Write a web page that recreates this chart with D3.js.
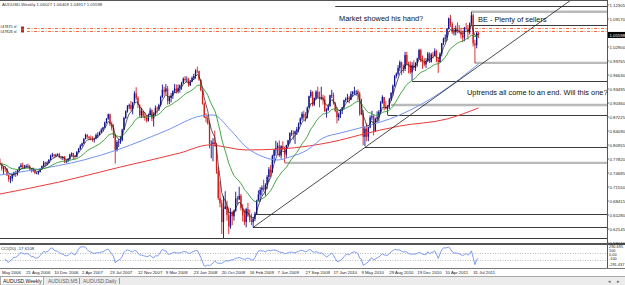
<!DOCTYPE html>
<html>
<head>
<meta charset="utf-8">
<script src="https://d3js.org/d3.v7.min.js"></script>
<style>
body { margin: 0; background: #fff; }
svg { display: block; font-family: "Liberation Sans", Arial, sans-serif; }
</style>
</head>
<body>
<div id="chart"></div>
<script>
// AUDUSD weekly bars, May 2006 - Aug 2011 (open = previous close)
var firstOpen = 0.7700;
var highs = [
 .7790,.7700,.7620,.7620,.7580,.7440,.7400,.7450,.7500,.7520,
 .7540,.7620,.7690,.7700,.7650,.7660,.7680,.7650,.7580,.7590,
 .7530,.7490,.7520,.7580,.7640,.7740,.7720,.7730,.7780,.7880,
 .7920,.7890,.7900,.7910,.7920,.7850,.7840,.7850,.7770,.7800,
 .7900,.7930,.7920,.7880,.7960,.8030,.8110,.8150,.8250,.8350,
 .8340,.8300,.8310,.8290,.8260,.8350,.8380,.8400,.8470,.8500,
 .8620,.8700,.8800,.8800,.8620,.8560,.8350,.8200,.8230,.8300,
 .8460,.8730,.8870,.8990,.9020,.9080,.9060,.9300,.9390,.9190,
 .9000,.8930,.8860,.8830,.8760,.8800,
 .8930,.8900,.8830,
 .8980,.8960,.9020,.9200,.9450,.9400,.9460,.9420,.9200,.9260,
 .9320,.9460,.9450,.9450,.9450,.9510,.9610,.9640,.9630,.9600,
 .9550,.9630,.9690,.9790,.9850,.9760,.9560,.9330,.9050,.8800,
 .8760,.8620,.8200,.8250,.8420,.8140,.7600,.7280,.6870,.6950,
 .7060,.6850,.6700,.6680,.6620,.6650,.7050,.6950,
 .7160,
 .7000,.6770,.6650,.6690,.6800,.6650,.6560,.6490,.6600,.6870,
 .7080,.7150,.7190,.7320,.7240,.7420,.7600,.7650,.7880,.8000,
 .8190,.8150,.8200,.8090,.8180,.8060,.8100,.8210,.8380,.8430,
 .8420,.8420,.8500,.8600,.8710,.8840,.8860,.8830,.8960,.9200,
 .9330,.9300,.9160,.9320,.9400,.9290,.9400,.9220,.9200,.8920,
 .9000,.9220,.9330,.9270,.9060,.8940,.8820,.8900,.8950,.9110,
 .9160,.9240,.9200,.9300,.9300,.9400,.9320,.9340,.9290,.9130,
 .8880,.8500,.8580,.8500,.8760,.8860,.8780,.8710,.8850,.8880,
 .9080,.9210,.9170,.9080,.8990,.9150,.9280,.9450,.9660,.9720,
 .9880,.9990,.9960,.9900,1.0180,1.0180,.9960,.9970,.9950,.9990,
 .9950,1.0050,1.0250,1.0250,1.0100,1.0040,1.0040,1.0180,1.0170,1.0160,
 1.0180,1.0260,1.0230,1.0070,1.0170,1.0380,1.0500,1.0570,1.0710,1.0950,
 1.1010,1.0850,1.0720,1.0770,1.0840,1.0780,1.0720,1.0660,1.0740,1.0830,
 1.0780,1.0840,1.1080,1.1040,1.0450,1.0630,1.06409
];
var lows = [
 .7640,.7520,.7450,.7500,.7400,.7270,.7240,.7280,.7390,.7380,
 .7410,.7500,.7590,.7570,.7560,.7580,.7580,.7530,.7480,.7490,
 .7450,.7440,.7430,.7480,.7550,.7600,.7620,.7640,.7680,.7750,
 .7820,.7800,.7830,.7850,.7800,.7770,.7760,.7690,.7690,.7710,
 .7760,.7840,.7770,.7780,.7820,.7930,.7990,.8060,.8120,.8220,
 .8240,.8200,.8200,.8170,.8150,.8220,.8250,.8310,.8360,.8400,
 .8470,.8580,.8660,.8520,.8420,.8250,.7680,.7950,.8050,.8120,
 .8180,.8430,.8680,.8820,.8900,.8860,.8780,.9030,.9100,.8920,
 .8720,.8700,.8700,.8640,.8600,.8620,
 .8760,.8630,.8510,
 .8740,.8800,.8860,.8960,.9150,.9200,.9240,.9000,.9010,.9050,
 .9130,.9260,.9250,.9250,.9270,.9330,.9470,.9510,.9500,.9400,
 .9420,.9500,.9550,.9580,.9700,.9530,.9300,.9000,.8700,.8600,
 .8550,.8020,.7800,.7730,.8060,.7450,.6860,.6700,.6100,.6010,
 .6660,.6400,.6100,.6220,.6300,.6400,.6600,.6770,
 .6860,
 .6630,.6380,.6300,.6250,.6480,.6370,.6300,.6250,.6390,.6540,
 .6830,.6820,.6960,.7050,.6960,.7110,.7270,.7380,.7470,.7700,
 .7860,.7900,.7830,.7790,.7990,.7700,.7810,.8050,.8130,.8300,
 .8210,.8120,.8320,.8380,.8550,.8640,.8650,.8620,.8690,.8930,
 .9150,.8960,.8970,.9110,.9140,.8940,.9100,.9000,.8840,.8710,
 .8860,.8950,.9150,.9000,.8830,.8580,.8640,.8700,.8790,.8890,
 .9050,.9060,.9030,.9100,.9180,.9220,.9200,.9090,.8750,.8770,
 .8090,.8070,.8180,.8180,.8470,.8650,.8310,.8400,.8600,.8620,
 .8800,.9020,.8870,.8890,.8770,.8900,.9080,.9200,.9400,.9590,
 .9650,.9750,.9660,.9710,.9750,.9880,.9700,.9690,.9540,.9770,
 .9750,.9850,1.0010,.9950,.9800,.9860,.9820,.9950,.9930,.9940,
 1.0030,1.0080,.9950,.9710,.9940,1.0080,1.0330,1.0400,1.0430,1.0680,
 1.0740,1.0580,1.0550,1.0550,1.0600,1.0590,1.0480,1.0400,1.0420,1.0680,
 1.0460,1.0570,1.0800,1.0300,.9930,1.0260,1.04917
];
var closes = [
 .7680,.7570,.7590,.7560,.7420,.7330,.7340,.7430,.7480,.7450,
 .7530,.7600,.7640,.7610,.7620,.7630,.7620,.7560,.7520,.7530,
 .7460,.7470,.7500,.7560,.7620,.7700,.7660,.7700,.7760,.7860,
 .7880,.7850,.7870,.7890,.7820,.7800,.7830,.7720,.7740,.7780,
 .7880,.7910,.7850,.7830,.7940,.8010,.8080,.8130,.8230,.8320,
 .8280,.8250,.8240,.8220,.8240,.8320,.8320,.8380,.8440,.8490,
 .8600,.8690,.8780,.8560,.8480,.8320,.7980,.8160,.8160,.8200,
 .8440,.8700,.8850,.8960,.8990,.8900,.9040,.9250,.9150,.9000,
 .8760,.8860,.8750,.8700,.8640,.8760,
 .8870,.8690,.8780,
 .8920,.8900,.8990,.9170,.9330,.9290,.9360,.9080,.9150,.9200,
 .9300,.9360,.9300,.9370,.9430,.9480,.9580,.9550,.9560,.9430,
 .9520,.9600,.9640,.9760,.9750,.9560,.9320,.9020,.8720,.8690,
 .8580,.8120,.8120,.8150,.8120,.7520,.6910,.6790,.6370,.6660,
 .6720,.6530,.6270,.6590,.6500,.6620,.6900,.6880,
 .6960,
 .6680,.6520,.6370,.6660,.6510,.6420,.6370,.6440,.6550,.6850,
 .6980,.7090,.7140,.7100,.7200,.7380,.7550,.7480,.7850,.7990,
 .8030,.8080,.7860,.8070,.8000,.7880,.8090,.8200,.8360,.8370,
 .8340,.8400,.8450,.8570,.8690,.8790,.8710,.8700,.8930,.9190,
 .9280,.9000,.9150,.9290,.9170,.9140,.9160,.9120,.8850,.8880,
 .8970,.9210,.9220,.9030,.8860,.8720,.8780,.8860,.8940,.9100,
 .9130,.9160,.9110,.9240,.9290,.9290,.9300,.9250,.8790,.8800,
 .8280,.8460,.8280,.8490,.8710,.8740,.8400,.8680,.8720,.8840,
 .9040,.9170,.8960,.8910,.8960,.9120,.9260,.9420,.9640,.9690,
 .9820,.9950,.9870,.9800,1.0110,.9910,.9900,.9720,.9880,.9820,
 .9930,1.0030,1.0220,.9970,.9960,.9900,.9970,1.0140,.9960,1.0120,
 1.0100,1.0200,1.0000,.9950,1.0140,1.0370,1.0480,1.0500,1.0700,1.0930,
 1.0800,1.0620,1.0630,1.0690,1.0650,1.0620,1.0560,1.0500,1.0720,1.0700,
 1.0620,1.0820,1.1000,1.0370,1.0330,1.0603,1.05598
];

// slow moving averages (bar index, value)
var blueMaBars = [0, 19, 48, 67, 96, 115, 122, 132, 141, 151, 159, 166, 176, 185, 195, 206, 229, 252, 274];
var blueMaValues = [0.7424, 0.7536, 0.7760, 0.7984, 0.8432, 0.8745, 0.8768, 0.8432, 0.8051, 0.7827,
                    0.7760, 0.7827, 0.7984, 0.8252, 0.8364, 0.8476, 0.8768, 0.9260, 0.9909];
var redMaBars = [0, 34, 69, 103, 120, 141, 160, 195, 206, 229, 256, 274];
var redMaValues = [0.6998, 0.7267, 0.7603, 0.7916, 0.8096, 0.7984, 0.8006, 0.8207, 0.8319, 0.8521, 0.8678, 0.8924];

// price axis
var priceTicks = [0.59010, 0.62145, 0.65280, 0.68415, 0.71550, 0.74685, 0.77820, 0.80955, 0.84090,
                  0.87225, 0.90360, 0.93495, 0.96630, 0.99765, 1.02900, 1.06035, 1.09170, 1.12305];
var lastPrice = 1.05598;

// time axis
var dateLabels = ["May 2006", "21 Aug 2006", "10 Dec 2006", "2 Apr 2007", "23 Jul 2007", "12 Nov 2007",
                  "9 Mar 2008", "23 Jun 2008", "20 Oct 2008", "16 Feb 2009", "7 Jun 2009", "27 Sep 2009",
                  "17 Jan 2010", "9 May 2010", "29 Aug 2010", "19 Dec 2010", "10 Apr 2011", "31 Jul 2011"];
var dateLabelBars = [0, 15, 31, 47, 63, 79, 95, 111, 127, 143, 159, 175, 191, 207, 223, 239, 255, 271];

// drawn objects
var supportLevels = [1.1210, 1.0780, 0.9530, 0.8770, 0.8060, 0.6550, 0.6270, 0.6007];
var supportStartBars = [192, 270, 236, 222, 209, 146, 145, 0];
var zoneLevels = [1.1078, 0.9935, 0.8990, 0.7695];
var zoneStartBars = [270, 272, 224, 163];
var orderLevels = [1.0716, 1.0649];
var orderNames = ["#47875 sl", "#47826 sl"];
var trendBars = [145, 209];
var trendPrices = [0.6250, 0.8040];

// CCI panel
var cciMax = 290.695, cciMin = -291.437;
var cciLevels = [100, -100];

var W = 625, H = 285;
var plotRight = 607, mainBottom = 243, cciTop = 245, cciBottom = 268;

var svg = d3.select("#chart").append("svg")
    .attr("width", W)
    .attr("height", H);

svg.append("rect").attr("width", W).attr("height", H).attr("fill", "#fff");

var x = d3.scaleLinear().domain([0, 274]).range([0, 478.4]);
var y = d3.scaleLinear().domain([0.59010, 1.12305]).range([mainBottom, 5]);
var yc = d3.scaleLinear().domain([cciMin, cciMax]).range([cciBottom, cciTop]).clamp(true);

var defs = svg.append("defs");
defs.append("clipPath").attr("id", "mainClip")
    .append("rect").attr("x", 0).attr("y", 1).attr("width", plotRight).attr("height", mainBottom - 1);
defs.append("clipPath").attr("id", "cciClip")
    .append("rect").attr("x", 0).attr("y", cciTop).attr("width", plotRight).attr("height", cciBottom - cciTop);

var main = svg.append("g").attr("clip-path", "url(#mainClip)");

// horizontal zones (thick grey)
main.selectAll(".zone")
    .data(zoneLevels)
    .enter()
    .append("line")
    .attr("x1", function(d, i) { return x(zoneStartBars[i]); })
    .attr("x2", plotRight)
    .attr("y1", function(d) { return y(d); })
    .attr("y2", function(d) { return y(d); })
    .attr("stroke", "#b9b9b9")
    .attr("stroke-width", 2.4);

// horizontal support / resistance
main.selectAll(".level")
    .data(supportLevels)
    .enter()
    .append("line")
    .attr("x1", function(d, i) { return x(supportStartBars[i]); })
    .attr("x2", plotRight)
    .attr("y1", function(d) { return Math.round(y(d)) + 0.5; })
    .attr("y2", function(d) { return Math.round(y(d)) + 0.5; })
    .attr("stroke", "#3c3c3c")
    .attr("stroke-width", 1);

// pending order lines
main.selectAll(".order")
    .data(orderLevels)
    .enter()
    .append("line")
    .attr("x1", 27)
    .attr("x2", plotRight)
    .attr("y1", function(d) { return Math.round(y(d)) + 0.5; })
    .attr("y2", function(d) { return Math.round(y(d)) + 0.5; })
    .attr("stroke", "#f2703a")
    .attr("stroke-width", 1)
    .style("stroke-dasharray", "3,1.5,1,1.5");

main.selectAll(".orderName")
    .data(orderNames)
    .enter()
    .append("text")
    .attr("x", 0)
    .attr("y", function(d, i) { return y(orderLevels[i]) + (i === 0 ? 0.5 : 2.5); })
    .attr("font-size", 3.8)
    .attr("fill", "#222")
    .text(function(d) { return d; });

main.selectAll(".orderBox")
    .data(orderLevels)
    .enter()
    .append("rect")
    .attr("x", 21)
    .attr("y", function(d) { return y(d) - 1.5; })
    .attr("width", 3)
    .attr("height", 3)
    .attr("fill", "#c0281e");

// candles
var bw = 1.3;
var bars = main.append("g");
closes.forEach(function(c, i) {
    var o = i === 0 ? firstOpen : closes[i - 1];
    var col = c >= o ? "#10108e" : "#d41c1c";
    var cx = x(i);
    bars.append("line")
        .attr("x1", cx).attr("x2", cx)
        .attr("y1", y(highs[i])).attr("y2", y(lows[i]))
        .attr("stroke", col)
        .attr("stroke-width", 0.9);
    var top = Math.min(y(o), y(c));
    bars.append("rect")
        .attr("x", cx - bw / 2)
        .attr("y", top)
        .attr("width", bw)
        .attr("height", Math.max(0.6, Math.abs(y(o) - y(c))))
        .attr("fill", col);
});

// moving averages
function ema(values, n) {
    var k = 2 / (n + 1), prev = values[0];
    return values.map(function(v, i) {
        prev = i === 0 ? v : v * k + prev * (1 - k);
        return prev;
    });
}

var maLine = d3.line()
    .x(function(d, i) { return x(i); })
    .y(function(d) { return y(d); });

var sparseLine = d3.line()
    .x(function(d) { return x(d[0]); })
    .y(function(d) { return y(d[1]); })
    .curve(d3.curveMonotoneX);

main.append("path")
    .attr("d", sparseLine(d3.zip(redMaBars, redMaValues)))
    .attr("fill", "none").attr("stroke", "#ee3a3a").attr("stroke-width", 1);

main.append("path")
    .attr("d", sparseLine(d3.zip(blueMaBars, blueMaValues)))
    .attr("fill", "none").attr("stroke", "#7393f2").attr("stroke-width", 1);

main.append("path")
    .attr("d", maLine(ema(closes, 21)))
    .attr("fill", "none").attr("stroke", "#2f9a2f").attr("stroke-width", 0.9);

main.append("path")
    .attr("d", maLine(ema(closes, 5)))
    .attr("fill", "none").attr("stroke", "#1a1a1a").attr("stroke-width", 0.7);

// trend line (ray)
var slope = (trendPrices[1] - trendPrices[0]) / (trendBars[1] - trendBars[0]);
var endBar = x.invert(plotRight);
main.append("line")
    .attr("x1", x(trendBars[0]))
    .attr("y1", y(trendPrices[0]))
    .attr("x2", x(endBar))
    .attr("y2", y(trendPrices[0] + slope * (endBar - trendBars[0])))
    .attr("stroke", "#1e1e1e")
    .attr("stroke-width", 0.8);

// annotations
var notes = svg.append("g").attr("font-size", 7.4).attr("fill", "#111");
notes.append("text").attr("x", 339).attr("y", 21).text("Market showed his hand?");
notes.append("text").attr("x", 478).attr("y", 22).text("BE - Plenty of sellers");
notes.append("text").attr("x", 467).attr("y", 95).text("Uptrends all come to an end. Will this one?");

// top header
svg.append("line").attr("x1", 0).attr("x2", plotRight).attr("y1", 0.5).attr("y2", 0.5)
    .attr("stroke", "#555").attr("stroke-width", 1);
svg.append("text").attr("x", 2).attr("y", 6).attr("font-size", 4.3).attr("fill", "#333")
    .text("AUDUSD,Weekly  1.06027 1.06409 1.04917 1.05598");

// panel separator
svg.append("rect").attr("x", 0).attr("y", mainBottom).attr("width", W).attr("height", 2)
    .attr("fill", "#555");

// CCI panel
var cciG = svg.append("g").attr("clip-path", "url(#cciClip)");
cciG.selectAll(".cciLevel")
    .data(cciLevels)
    .enter()
    .append("line")
    .attr("x1", 0).attr("x2", plotRight)
    .attr("y1", function(d) { return Math.round(yc(d)) + 0.5; })
    .attr("y2", function(d) { return Math.round(yc(d)) + 0.5; })
    .attr("stroke", "#aaa")
    .attr("stroke-width", 0.8)
    .style("stroke-dasharray", "1,1.5");

var typical = closes.map(function(c, i) { return (highs[i] + lows[i] + c) / 3; });
var cciValues = typical.map(function(v, i) {
    if (i < 3) return null;
    var w = typical.slice(Math.max(0, i - 19), i + 1);
    var m = d3.mean(w);
    var md = d3.mean(w, function(d) { return Math.abs(d - m); });
    return md ? (v - m) / (0.015 * md) : 0;
});

cciG.append("path")
    .attr("d", d3.line()
        .defined(function(d) { return d !== null; })
        .x(function(d, i) { return x(i); })
        .y(function(d) { return yc(d); })(cciValues))
    .attr("fill", "none").attr("stroke", "#7090ee").attr("stroke-width", 0.9);

svg.append("text").attr("x", 1).attr("y", 250).attr("font-size", 4.3).attr("fill", "#333")
    .text("CCI(20) -17.6108");

svg.append("line").attr("x1", 0).attr("x2", W).attr("y1", cciBottom + 0.5).attr("y2", cciBottom + 0.5)
    .attr("stroke", "#777").attr("stroke-width", 1);

// right axis
svg.append("line").attr("x1", plotRight + 0.5).attr("x2", plotRight + 0.5).attr("y1", 0).attr("y2", cciBottom)
    .attr("stroke", "#555").attr("stroke-width", 1);

var bidY = y(lastPrice);
var axisG = svg.append("g").attr("font-size", 4.3).attr("fill", "#222");
priceTicks.forEach(function(p) {
    var py = y(p);
    axisG.append("line").attr("x1", plotRight).attr("x2", plotRight + 2)
        .attr("y1", py).attr("y2", py).attr("stroke", "#555").attr("stroke-width", 0.8);
    // the bid label hides the tick label under it
    if (Math.abs(py - bidY) < 5) return;
    axisG.append("text").attr("x", plotRight + 2.5).attr("y", py + 1.5).text(d3.format(".5f")(p));
});

// bid label
svg.append("rect").attr("x", plotRight + 1).attr("y", bidY - 3).attr("width", W - plotRight - 1).attr("height", 6)
    .attr("fill", "#000");
svg.append("text").attr("x", plotRight + 2.5).attr("y", bidY + 1.6).attr("font-size", 4.3).attr("fill", "#fff")
    .text(d3.format(".5f")(lastPrice));

// CCI scale labels
var cciLabels = ["290.695", "100", "0.00", "-100", "-291.437"];
var cciLabelY = [248, 252, 256, 260, 265.5];
cciLabels.forEach(function(d, i) {
    axisG.append("text").attr("x", plotRight + 2).attr("y", cciLabelY[i]).attr("font-size", 3.9).text(d);
});

// time labels
svg.selectAll(".dateLabel")
    .data(dateLabels)
    .enter()
    .append("text")
    .attr("x", function(d, i) { return x(dateLabelBars[i]) + (i === 0 ? 2 : 0); })
    .attr("y", 274)
    .attr("font-size", 4.3)
    .attr("fill", "#222")
    .text(function(d) { return d; });

// tab strip
svg.append("rect").attr("x", 0).attr("y", 276).attr("width", W).attr("height", 9).attr("fill", "#ececec");
svg.append("line").attr("x1", 0).attr("x2", W).attr("y1", 276.5).attr("y2", 276.5).attr("stroke", "#a8a8a8");
svg.append("rect").attr("x", 0.5).attr("y", 276.5).attr("width", 43).attr("height", 8.5)
    .attr("fill", "#fff").attr("stroke", "#999").attr("stroke-width", 0.8);
var tabs = [["AUDUSD,Weekly", 3, "#111"], ["AUDUSD,M5", 48, "#666"], ["AUDUSD,Daily", 83, "#666"]];
tabs.forEach(function(t) {
    svg.append("text").attr("x", t[1]).attr("y", 282.6).attr("font-size", 5).attr("fill", t[2]).text(t[0]);
});
[79.5, 119.5].forEach(function(sx) {
    svg.append("line").attr("x1", sx).attr("x2", sx).attr("y1", 278).attr("y2", 284).attr("stroke", "#999");
});
svg.append("text").attr("x", 608).attr("y", 283).attr("font-size", 5).attr("fill", "#666").text("\u25C2");
svg.append("text").attr("x", 617).attr("y", 283).attr("font-size", 5).attr("fill", "#666").text("\u25B8");
</script>
</body>
</html>
